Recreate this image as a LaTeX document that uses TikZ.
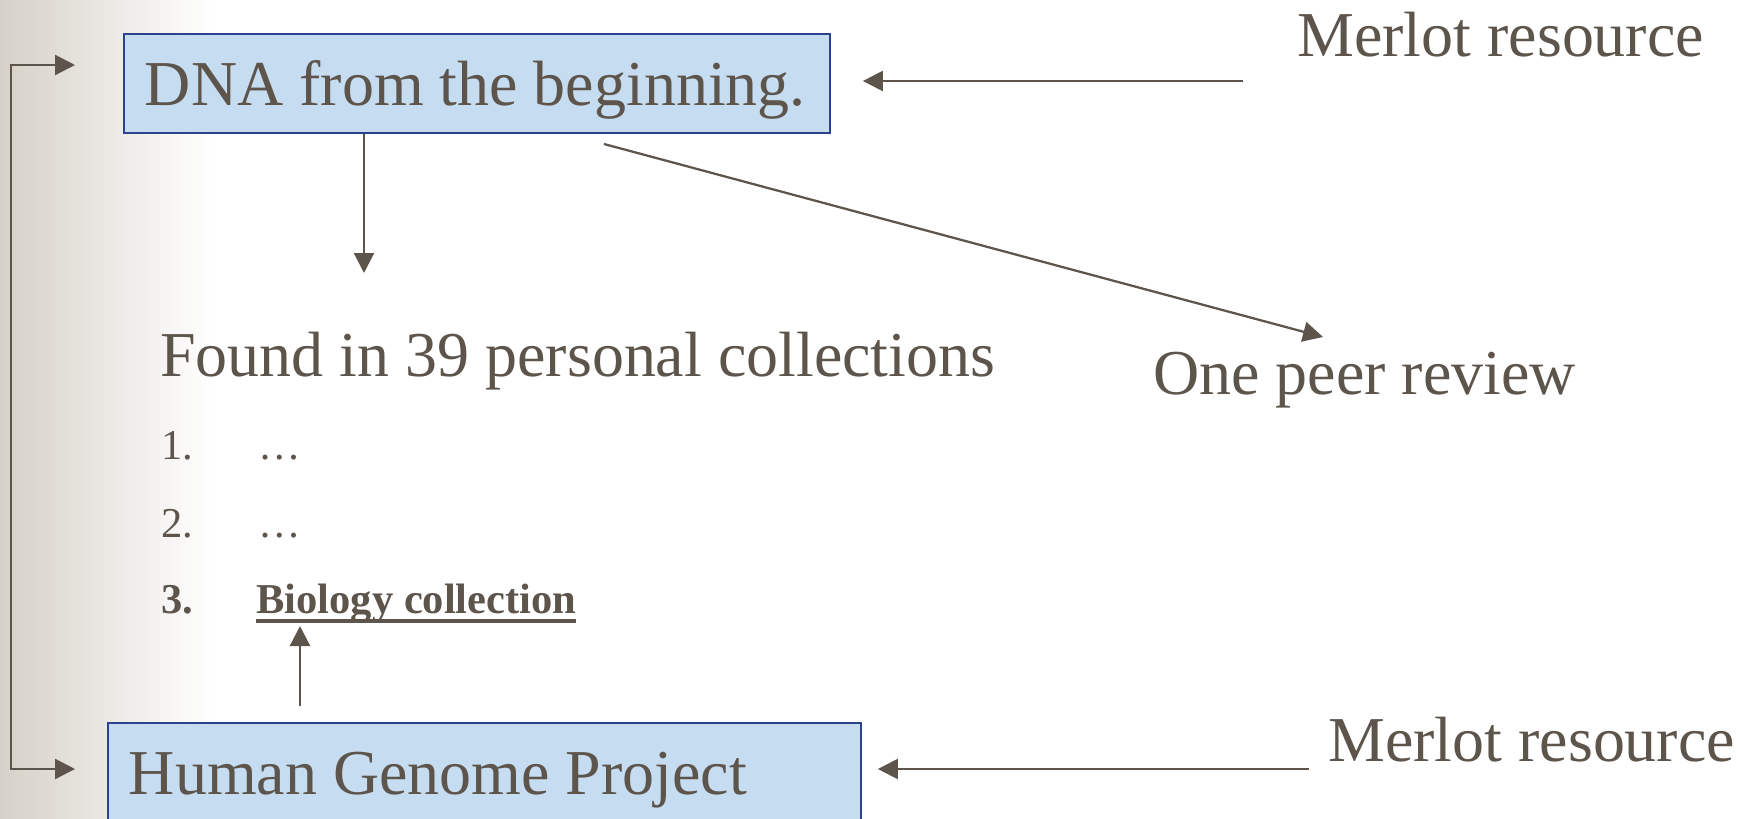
\documentclass[tikz,border=0pt]{standalone}
\usepackage{fontspec}
\setmainfont{Liberation Serif}
\usetikzlibrary{arrows.meta}
\definecolor{ink}{RGB}{93,84,75}
\definecolor{boxblue}{RGB}{198,220,240}
\definecolor{boxline}{RGB}{45,66,140}
\definecolor{margingray}{RGB}{214,209,200}
\newcommand{\bigtxt}{\fontsize{36.4}{40}\selectfont}
\newcommand{\listtxt}{\fontsize{24.2}{28}\selectfont}
\newcommand{\ulbar}[1]{\setbox0\hbox{#1}\rlap{\rule[-0.23em]{\wd0}{0.085em}}\box0}

\begin{document}
\begin{tikzpicture}[x=0.02cm,y=-0.02cm,
    every node/.style={text=ink,inner sep=0pt},
    caption/.style={anchor=base west,font=\bigtxt},
    listitem/.style={anchor=base west,font=\listtxt},
    link/.style={draw=ink,line width=0.045cm,-{Triangle[length=0.4cm,width=0.4cm]}},
    resource/.style={draw=boxline,fill=boxblue,line width=0.04cm,anchor=north west,font=\bigtxt,
      text height=1.44cm,text depth=0.54cm,inner xsep=0.42cm}]
        \useasboundingbox (0,0) rectangle (1740,818);
        \clip (0,0) rectangle (1740,818);
        \shade[left color=margingray,right color=white] (0,0) rectangle (212,818);
        \node[resource] (dna) at (123,33) {\makebox[13.28cm][l]{DNA from the beginning.}};
        \node[resource] (hgp) at (107,722) {\makebox[14.22cm][l]{Human Genome Project}};
        \node[caption] (merlotA) at (1297,56) {Merlot resource};
        \node[caption] (merlotB) at (1328,761) {Merlot resource};
        \node[caption] (found) at (160,376) {Found in 39 personal collections};
        \node[caption] (peer) at (1153,394) {One peer review};
        \node[listitem] (num1) at (161,459) {1.};
        \node[listitem] (item1) at (258,459) {…};
        \node[listitem] (num2) at (161,537) {2.};
        \node[listitem] (item2) at (258,537) {…};
        \node[listitem,font=\listtxt\bfseries] (num3) at (161,613) {3.};
        \node[listitem,font=\listtxt\bfseries] (bio) at (256,613) {\ulbar{Biology collection}};
        \coordinate (railtop) at (11,65);
        \coordinate (dnain) at (75,65);
        \coordinate (hgpin) at (75,769);
        \coordinate (mA) at (1243,81);
        \coordinate (mB) at (1309,769);
        \coordinate (foundtop) at (364,273);
        \coordinate (diag0) at (604,144);
        \coordinate (peertip) at (1323,337);
        \coordinate (hgpout) at (300,706);
        \coordinate (biotip) at (300,626);
        \draw[link,{Triangle[length=0.4cm,width=0.4cm]}-{Triangle[length=0.4cm,width=0.4cm]}]
          (dnain) -- (railtop) |- (hgpin);
        \draw[link,shorten >=0.64cm] (mA) -- (mA -| dna.east);
        \draw[link,shorten >=0.32cm] (mB) -- (mB -| hgp.east);
        \draw[link] (dna.south -| foundtop) -- (foundtop);
        \draw[link] (diag0) -- (peertip);
        \draw[link] (hgpout) -- (biotip);
      \end{tikzpicture}
\end{document}
